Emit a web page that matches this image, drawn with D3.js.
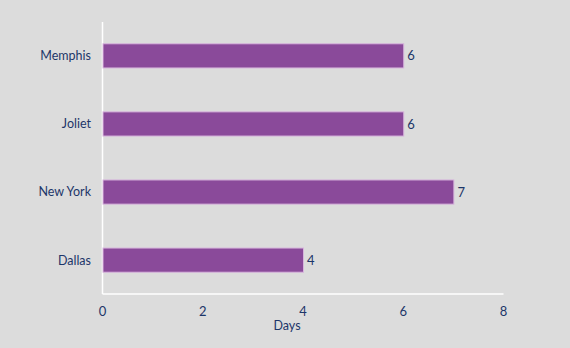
<!DOCTYPE html>
<html><head><meta charset="utf-8">
<script src="https://cdn.jsdelivr.net/npm/d3@7"></script>
<style>html,body{margin:0;padding:0;background:#dcdcdc;}svg{display:block;}</style>
</head><body>
<script>
const categories = ["Memphis", "Joliet", "New York", "Dallas"];
const values = [6, 6, 7, 4];
const xTicks = [0, 2, 4, 6, 8];
const xLabel = "Days";

const W = 570, H = 348;
const m = {left: 102.5, right: 66.5, top: 22, bottom: 54};
const svg = d3.select("body").append("svg").attr("width", W).attr("height", H);
svg.append("rect").attr("width", W).attr("height", H).attr("fill", "#dcdcdc");

const x = d3.scaleLinear().domain([0, 8]).range([m.left, W - m.right]);
const y = d3.scaleBand().domain(categories).range([22, 294]).paddingInner(0.645).paddingOuter(0.32);

const font = "Lato, 'Open Sans', sans-serif";
const txt = "#1c3669";

// axes lines
svg.append("line").attr("x1", m.left).attr("x2", m.left).attr("y1", 22).attr("y2", 294)
  .attr("stroke", "#ffffff").attr("stroke-width", 1.5);
svg.append("line").attr("x1", m.left).attr("x2", x(8)).attr("y1", 294).attr("y2", 294)
  .attr("stroke", "#ffffff").attr("stroke-width", 1.5);

// bars
svg.selectAll("rect.bar").data(categories).enter().append("rect")
  .attr("class", "bar")
  .attr("x", x(0) + 0.5)
  .attr("y", d => y(d))
  .attr("width", (d, i) => x(values[i]) - x(0))
  .attr("height", y.bandwidth())
  .attr("fill", "#8a4a9a")
  .attr("stroke", "#d7b4dc").attr("stroke-width", 1);

// value labels
svg.selectAll("text.val").data(categories).enter().append("text")
  .attr("x", (d, i) => x(values[i]) + 4)
  .attr("y", d => y(d) + y.bandwidth() / 2)
  .attr("dy", "0.35em")
  .attr("font-family", font).attr("font-size", 13).attr("fill", txt)
  .text((d, i) => values[i]);

// category labels
svg.selectAll("text.cat").data(categories).enter().append("text")
  .attr("x", 91)
  .attr("y", d => y(d) + y.bandwidth() / 2)
  .attr("dy", "0.35em").attr("text-anchor", "end")
  .attr("font-family", font).attr("font-size", 12.5).attr("fill", txt)
  .text(d => d);

// x tick labels
svg.selectAll("text.tick").data(xTicks).enter().append("text")
  .attr("x", d => x(d)).attr("y", 311).attr("dy", "0.35em")
  .attr("text-anchor", "middle")
  .attr("font-family", font).attr("font-size", 13).attr("fill", txt)
  .text(d => d);

svg.append("text").attr("x", 287).attr("y", 326).attr("dy", "0.35em")
  .attr("text-anchor", "middle")
  .attr("font-family", font).attr("font-size", 12.5).attr("fill", txt)
  .text(xLabel);
</script>
</body></html>
